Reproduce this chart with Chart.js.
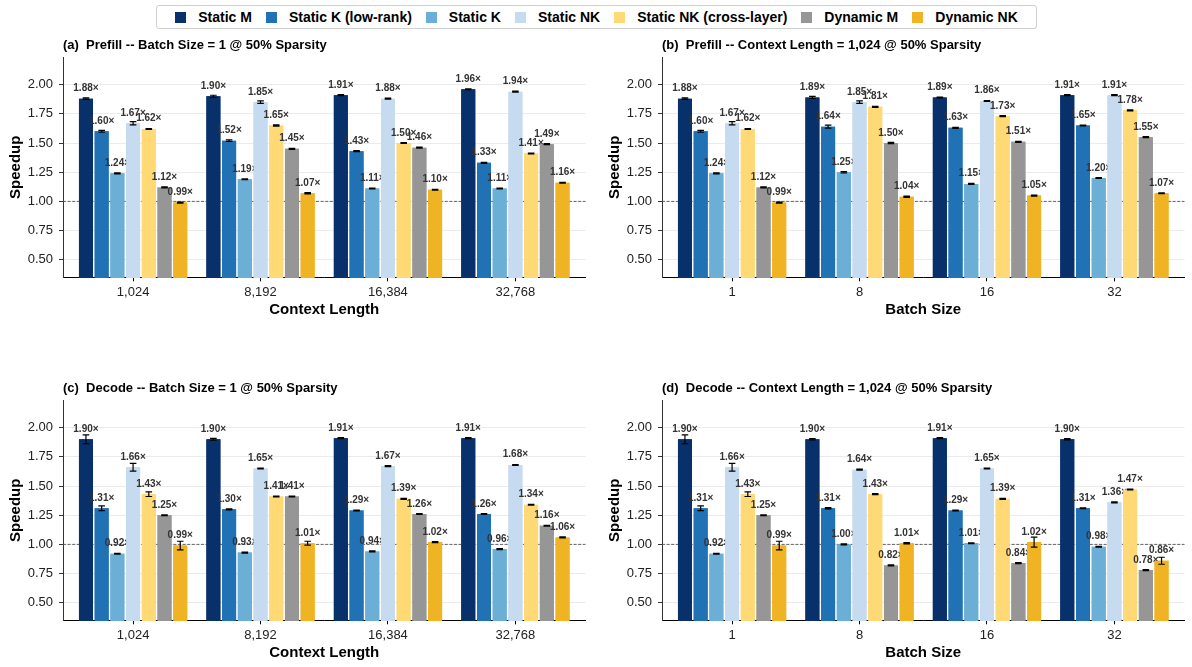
<!DOCTYPE html>
<html lang="en">
<head>
<meta charset="UTF-8">
<title>Speedup at 50% Sparsity</title>
<script src="https://cdn.jsdelivr.net/npm/chart.js"></script>
<style>
  body { margin: 0; background: #fff; font-family: "Liberation Sans", Arial, sans-serif; overflow: hidden; }
  #wrap { position: relative; width: 1192px; height: 667px; overflow: hidden; }
  .panel { position: absolute; }
  #legend {
    position: absolute; left: 156px; top: 5px; width: 879px; height: 22px;
    border: 1px solid #cfcfcf; border-radius: 3px;
    display: flex; align-items: center; justify-content: center;
    font-weight: bold; font-size: 14px; color: #000;
  }
  .item { display: flex; align-items: center; margin: 0 7px; }
  .box { width: 11px; height: 11px; margin-right: 12px; }
</style>
</head>
<body>
<div id="wrap">
  <div id="legend"></div>
  <div class="panel" style="left:0;top:30px;width:598px;height:300px"><canvas id="chartA"></canvas></div>
  <div class="panel" style="left:599px;top:30px;width:593px;height:300px"><canvas id="chartB"></canvas></div>
  <div class="panel" style="left:0;top:373px;width:598px;height:292px"><canvas id="chartC"></canvas></div>
  <div class="panel" style="left:599px;top:373px;width:593px;height:292px"><canvas id="chartD"></canvas></div>
</div>

<script>
  const seriesNames = ['Static M', 'Static K (low-rank)', 'Static K', 'Static NK', 'Static NK (cross-layer)', 'Dynamic M', 'Dynamic NK'];
  const seriesColors = ['#08306b', '#2171b5', '#6baed6', '#c6dbef', '#fed976', '#969696', '#f0b323'];

  const contextLengths = ['1,024', '8,192', '16,384', '32,768'];
  const batchSizes = ['1', '8', '16', '32'];

  // one row per series, one value per group
  const prefillCtxVals = [
    [1.88, 1.90, 1.91, 1.96],
    [1.60, 1.52, 1.43, 1.33],
    [1.24, 1.19, 1.11, 1.11],
    [1.67, 1.85, 1.88, 1.94],
    [1.62, 1.65, 1.50, 1.41],
    [1.12, 1.45, 1.46, 1.49],
    [0.99, 1.07, 1.10, 1.16]
  ];
  const prefillCtxErr = [
    [0.006, 0.009, 0.004, 0.004],
    [0.008, 0.007, 0.004, 0.004],
    [0.005, 0.004, 0.004, 0.004],
    [0.014, 0.010, 0.004, 0.004],
    [0.004, 0.005, 0.004, 0.004],
    [0.004, 0.005, 0.004, 0.004],
    [0.005, 0.005, 0.004, 0.004]
  ];

  const prefillBatchVals = [
    [1.88, 1.89, 1.89, 1.91],
    [1.60, 1.64, 1.63, 1.65],
    [1.24, 1.25, 1.15, 1.20],
    [1.67, 1.85, 1.86, 1.91],
    [1.62, 1.81, 1.73, 1.78],
    [1.12, 1.50, 1.51, 1.55],
    [0.99, 1.04, 1.05, 1.07]
  ];
  const prefillBatchErr = [
    [0.006, 0.009, 0.004, 0.005],
    [0.008, 0.013, 0.004, 0.004],
    [0.005, 0.006, 0.004, 0.004],
    [0.014, 0.010, 0.004, 0.004],
    [0.004, 0.005, 0.004, 0.004],
    [0.004, 0.006, 0.004, 0.004],
    [0.005, 0.005, 0.004, 0.004]
  ];

  const decodeCtxVals = [
    [1.90, 1.90, 1.91, 1.91],
    [1.31, 1.30, 1.29, 1.26],
    [0.92, 0.93, 0.94, 0.96],
    [1.66, 1.65, 1.67, 1.68],
    [1.43, 1.41, 1.39, 1.34],
    [1.25, 1.41, 1.26, 1.16],
    [0.99, 1.01, 1.02, 1.06]
  ];
  const decodeCtxErr = [
    [0.038, 0.008, 0.005, 0.005],
    [0.020, 0.005, 0.004, 0.004],
    [0.004, 0.004, 0.004, 0.004],
    [0.033, 0.004, 0.004, 0.004],
    [0.020, 0.004, 0.004, 0.004],
    [0.004, 0.004, 0.004, 0.004],
    [0.037, 0.017, 0.004, 0.004]
  ];

  const decodeBatchVals = [
    [1.90, 1.90, 1.91, 1.90],
    [1.31, 1.31, 1.29, 1.31],
    [0.92, 1.00, 1.01, 0.98],
    [1.66, 1.64, 1.65, 1.36],
    [1.43, 1.43, 1.39, 1.47],
    [1.25, 0.82, 0.84, 0.78],
    [0.99, 1.01, 1.02, 0.86]
  ];
  const decodeBatchErr = [
    [0.038, 0.006, 0.005, 0.005],
    [0.020, 0.005, 0.004, 0.004],
    [0.004, 0.004, 0.004, 0.004],
    [0.033, 0.004, 0.004, 0.004],
    [0.020, 0.004, 0.004, 0.004],
    [0.004, 0.004, 0.004, 0.005],
    [0.037, 0.005, 0.043, 0.030]
  ];

  const yTicks = [0.50, 0.75, 1.00, 1.25, 1.50, 1.75, 2.00];
  const Y_MIN = 0.35, Y_MAX = 2.234;

  Chart.defaults.font.family = '"Liberation Sans", Arial, sans-serif';
  Chart.defaults.color = '#222';

  // legend
  const legend = document.getElementById('legend');
  seriesNames.forEach((name, i) => {
    const item = document.createElement('div');
    item.className = 'item';
    item.innerHTML = '<span class="box" style="background:' + seriesColors[i] + '"></span><span>' + name + '</span>';
    legend.appendChild(item);
  });

  // dashed reference line, then bars + error bars + labels series by series
  const panelPlugin = {
    id: 'panelDecor',
    beforeDatasetsDraw(chart) {
      const {ctx, chartArea, scales: {y}} = chart;
      const py = y.getPixelForValue(1.0);
      ctx.save();
      ctx.strokeStyle = '#555';
      ctx.lineWidth = 0.9;
      ctx.setLineDash([3, 1.6]);
      ctx.beginPath();
      ctx.moveTo(chartArea.left, py);
      ctx.lineTo(chartArea.right, py);
      ctx.stroke();
      ctx.restore();
    },
    afterDatasetsDraw(chart) {
      const {ctx, scales: {y}} = chart;
      chart.data.datasets.forEach((ds, i) => {
        const meta = chart.getDatasetMeta(i);
        meta.data.forEach(el => el.draw(ctx));
        ctx.save();
        ctx.strokeStyle = '#000';
        ctx.lineWidth = 1.2;
        meta.data.forEach((el, g) => {
          const v = ds.data[g].y, e = ds.err[g];
          const y1 = y.getPixelForValue(v + e), y2 = y.getPixelForValue(v - e);
          ctx.beginPath();
          ctx.moveTo(el.x, y1); ctx.lineTo(el.x, y2);
          ctx.moveTo(el.x - 3.3, y1); ctx.lineTo(el.x + 3.3, y1);
          ctx.moveTo(el.x - 3.3, y2); ctx.lineTo(el.x + 3.3, y2);
          ctx.stroke();
        });
        ctx.fillStyle = '#333';
        ctx.font = 'bold 10px "Liberation Sans", Arial, sans-serif';
        ctx.textAlign = 'center';
        ctx.textBaseline = 'alphabetic';
        meta.data.forEach((el, g) => {
          ctx.fillText(ds.data[g].y.toFixed(2) + '\u00d7', el.x, el.y - 7.5);
        });
        ctx.restore();
      });
    },
    afterDraw(chart, args, opts) {
      const {ctx, chartArea} = chart;
      ctx.save();
      ctx.fillStyle = '#000';
      ctx.font = 'bold 13px "Liberation Sans", Arial, sans-serif';
      ctx.textAlign = 'left';
      ctx.textBaseline = 'middle';
      ctx.fillText(opts.text, chartArea.left, chartArea.top - 11.6);
      ctx.restore();
    }
  };

  function makeChart(id, panelTitle, cats, xTitle, vals, errs, h, padRight) {
    const datasets = seriesNames.map((name, s) => ({
      label: name,
      data: vals[s].map((v, g) => ({x: g, y: v})),
      err: errs[s],
      backgroundColor: seriesColors[s],
      borderWidth: 0,
      base: Y_MIN - 0.006,
      barPercentage: 0.89,
      categoryPercentage: 0.863
    }));
    new Chart(document.getElementById(id), {
      type: 'bar',
      data: {datasets},
      options: {
        responsive: true,
        maintainAspectRatio: false,
        animation: false,
        events: [],
        layout: {padding: {left: 0, top: 27.3, right: padRight, bottom: 0}},
        plugins: {
          legend: {display: false},
          tooltip: {enabled: false},
          panelDecor: {text: panelTitle}
        },
        scales: {
          x: {
            type: 'linear',
            min: -0.55,
            max: 3.55,
            offset: false,
            afterBuildTicks: sc => { sc.ticks = cats.map((c, i) => ({value: i})); },
            afterFit: sc => { sc.height = h - 247.3; },
            ticks: {
              autoSkip: false, maxRotation: 0, padding: 3,
              font: {size: 13}, color: '#222',
              callback: v => cats[v]
            },
            grid: {display: true, drawOnChartArea: false, drawTicks: true, tickLength: 4, tickColor: '#000', offset: false},
            border: {display: true, color: '#000', width: 1},
            title: {display: true, text: xTitle, font: {size: 15, weight: 'bold'}, color: '#000', padding: {top: 0, bottom: h - 289}}
          },
          y: {
            min: Y_MIN,
            max: Y_MAX,
            afterBuildTicks: sc => { sc.ticks = yTicks.map(v => ({value: v})); },
            afterFit: sc => { sc.width = 63; },
            ticks: {padding: 6, font: {size: 13}, color: '#222', callback: v => v.toFixed(2)},
            grid: {color: 'rgba(0,0,0,0.08)', lineWidth: 1, tickColor: '#333', tickLength: 4},
            border: {display: true, color: '#333', width: 1},
            title: {display: true, text: 'Speedup', font: {size: 15, weight: 'bold'}, color: '#000', padding: {top: 7, bottom: 0}}
          }
        }
      },
      plugins: [panelPlugin]
    });
  }

  makeChart('chartA', '(a)  Prefill -- Batch Size = 1 @ 50% Sparsity', contextLengths, 'Context Length', prefillCtxVals, prefillCtxErr, 300, 12.5);
  makeChart('chartB', '(b)  Prefill -- Context Length = 1,024 @ 50% Sparsity', batchSizes, 'Batch Size', prefillBatchVals, prefillBatchErr, 300, 7.5);
  makeChart('chartC', '(c)  Decode -- Batch Size = 1 @ 50% Sparsity', contextLengths, 'Context Length', decodeCtxVals, decodeCtxErr, 292, 12.5);
  makeChart('chartD', '(d)  Decode -- Context Length = 1,024 @ 50% Sparsity', batchSizes, 'Batch Size', decodeBatchVals, decodeBatchErr, 292, 7.5);
</script>
</body>
</html>
